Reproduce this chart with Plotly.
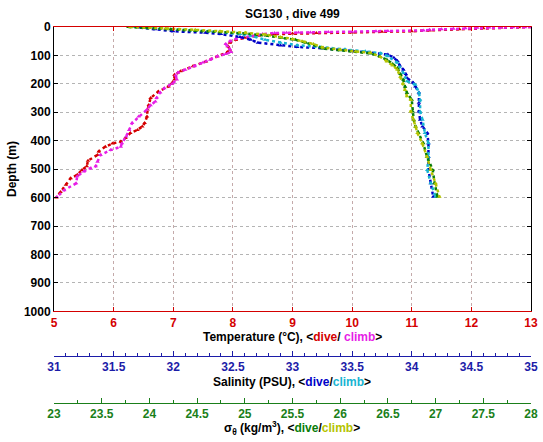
import plotly.graph_objects as go

# ---------------- data ----------------
temp_dive_depth = [0, 1, 2, 4, 8, 12, 15, 17, 19, 21, 23, 25, 30, 38, 45, 55, 68, 80, 90, 103,
                   121, 138, 156, 168, 185, 200, 209, 227, 250, 274, 290, 315, 338, 350, 362,
                   373, 390, 403, 410, 421, 438, 450, 470, 490, 503, 520, 532, 555, 580, 600]
temp_dive = [13.0, 12.8, 12.5, 12.2, 11.8, 11.3, 11.0, 10.5, 10.0, 9.4, 9.0, 8.7, 8.4, 8.2, 8.05,
             7.95, 7.92, 7.95, 7.9, 7.74, 7.55, 7.33, 7.12, 7.02, 7.02, 6.97, 6.92, 6.75, 6.62,
             6.59, 6.57, 6.56, 6.52, 6.48, 6.40, 6.28, 6.2, 6.12, 5.98, 5.86, 5.75, 5.73, 5.57,
             5.55, 5.47, 5.39, 5.28, 5.2, 5.11, 5.04]

temp_climb_depth = [0, 0.5, 1, 1.5, 2, 3, 4, 6, 8, 10, 12, 14, 15, 17, 18, 19, 19.5, 20, 21, 25,
                    32, 38, 42, 50, 60, 68, 78, 88, 95, 103, 115, 125, 138, 150, 160, 170, 185,
                    200, 215, 230, 250, 262, 275, 290, 315, 338, 362, 385, 409, 421, 433, 450,
                    474, 490, 497, 508, 525, 550, 574, 598]
temp_climb = [13.0, 12.9, 12.7, 12.5, 12.3, 12.1, 11.9, 11.7, 11.5, 11.3, 11.2, 10.6, 10.4, 10.0,
              9.6, 9.3, 9.1, 8.9, 8.7, 8.5, 8.3, 8.16, 8.05, 7.95, 7.88, 7.91, 7.95, 7.97, 7.88,
              7.74, 7.62, 7.5, 7.35, 7.2, 7.08, 7.04, 7.06, 6.98, 6.85, 6.78, 6.72, 6.70, 6.62,
              6.56, 6.42, 6.31, 6.26, 6.21, 6.14, 6.12, 5.95, 5.78, 5.73, 5.70, 5.61, 5.5, 5.39,
              5.37, 5.17, 5.05]

sal_dive_depth = [2, 8, 15, 20, 25, 35, 45, 55, 65, 70, 75, 80, 85, 90, 97, 108, 120, 135, 150,
                  165, 179, 195, 209, 230, 266, 297, 326, 350, 373, 409, 456, 503, 550, 597]
sal_dive = [31.72, 31.85, 32.00, 32.27, 32.40, 32.56, 32.65, 32.71, 32.90, 33.04, 33.26, 33.40,
            33.51, 33.65, 33.80, 33.85, 33.88, 33.90, 33.93, 33.95, 33.96, 34.01, 34.03, 34.06,
            34.06, 34.06, 34.07, 34.09, 34.13, 34.14, 34.14, 34.14, 34.16, 34.18]

sal_climb_depth = [0, 5, 15, 25, 35, 45, 55, 64, 70, 78, 85, 92, 103, 126, 162, 191, 203, 230,
                   256, 297, 326, 373, 409, 456, 503, 550, 597]
sal_climb = [31.68, 31.89, 32.31, 32.56, 32.69, 32.77, 32.90, 33.04, 33.23, 33.44, 33.61, 33.74,
             33.80, 33.88, 33.93, 33.96, 34.03, 34.06, 34.07, 34.07, 34.09, 34.11, 34.14, 34.14,
             34.13, 34.16, 34.20]

sig_dive_depth = [0, 3, 8, 13, 18, 23, 30, 38, 45, 55, 65, 76, 82, 87, 93, 105, 115, 130, 144,
                  165, 185, 210, 232, 256, 297, 326, 350, 373, 409, 456, 503, 550, 597]
sig_dive = [23.78, 23.96, 24.22, 24.48, 24.74, 25.01, 25.22, 25.39, 25.53, 25.64, 25.74, 25.82,
            26.00, 26.16, 26.32, 26.42, 26.49, 26.55, 26.60, 26.63, 26.66, 26.68, 26.70, 26.75,
            26.76, 26.77, 26.79, 26.82, 26.87, 26.91, 26.97, 26.99, 27.02]

sig_climb_depth = [0, 2, 5, 10, 15, 20, 27, 35, 42, 50, 60, 72, 80, 86, 91, 105, 121, 135, 150,
                   175, 200, 222, 244, 256, 297, 326, 350, 373, 409, 456, 503, 550, 597]
sig_climb = [23.80, 24.01, 24.17, 24.48, 24.74, 25.01, 25.22, 25.37, 25.50, 25.60, 25.72, 25.82,
             26.00, 26.16, 26.32, 26.42, 26.49, 26.55, 26.60, 26.63, 26.66, 26.68, 26.70, 26.74,
             26.74, 26.77, 26.79, 26.81, 26.86, 26.91, 26.95, 27.00, 27.04]

depth_ticks = list(range(0, 1001, 100))

# ---------------- styles ----------------
FONT = "Liberation Sans"
RED = "#d40000"
MAG = "#e61ee6"
BLUE = "#0000c8"
CYAN = "#18b4d2"
GREEN = "#0a7d0a"
YEL = "#b4c300"
SAL_AX = "#1c1ca8"
SIG_AX = "#1a7f1a"


def tr(x, y, color, axis):
    return go.Scatter(x=x, y=y, xaxis=axis, yaxis="y", mode="lines+markers",
                      line=dict(color=color, width=2.5, dash="dot"),
                      marker=dict(color=color, size=4, symbol="triangle-up"),
                      showlegend=False, hoverinfo="skip")


fig = go.Figure()
fig.add_trace(tr(sig_dive, sig_dive_depth, GREEN, "x3"))
fig.add_trace(tr(sig_climb, sig_climb_depth, YEL, "x3"))
fig.add_trace(tr(sal_dive, sal_dive_depth, BLUE, "x2"))
fig.add_trace(tr(sal_climb, sal_climb_depth, CYAN, "x2"))
fig.add_trace(tr(temp_dive, temp_dive_depth, RED, "x"))
fig.add_trace(tr(temp_climb, temp_climb_depth, MAG, "x"))

bold = dict(family=FONT, size=12, color="black", weight="bold")

fig.update_layout(
    width=543, height=442,
    margin=dict(l=54, r=12, t=27, b=10, autoexpand=False),
    paper_bgcolor="white", plot_bgcolor="white",
    font=dict(family=FONT, size=12, color="black"),
    xaxis=dict(range=[5, 13], dtick=1, tick0=5, domain=[0, 1], anchor="y", automargin=False,
               showline=True, linecolor=RED, linewidth=1, mirror="ticks",
               ticks="inside", ticklen=4, tickcolor=RED,
               tickfont=dict(family=FONT, size=12, color=RED, weight="bold"),
               showgrid=True, gridcolor="#c4aaaa", griddash="dot", gridwidth=1,
               zeroline=False),
    yaxis=dict(range=[1000, 0], tickvals=depth_ticks, domain=[0.298, 1], anchor="x",
               automargin=False,
               showline=True, linecolor="black", linewidth=1, mirror="ticks",
               ticks="inside", ticklen=4, tickcolor="black",
               tickfont=dict(family=FONT, size=12, color="black", weight="bold"),
               showgrid=True, gridcolor="#b4b4b4", griddash="dot", gridwidth=1,
               zeroline=False),
    xaxis2=dict(range=[31, 35], dtick=0.5, tick0=31, overlaying="x", anchor="free",
                position=0.1877, side="bottom", automargin=False,
                showline=True, linecolor=SAL_AX, linewidth=1,
                ticks="inside", ticklen=5, tickcolor=SAL_AX,
                minor=dict(dtick=0.1, ticks="inside", ticklen=3, tickcolor=SAL_AX),
                tickfont=dict(family=FONT, size=12, color=SAL_AX, weight="bold"),
                showgrid=False, zeroline=False),
    xaxis3=dict(range=[23, 28], dtick=0.5, tick0=23, overlaying="x", anchor="free",
                position=0.0723, side="bottom", automargin=False,
                showline=True, linecolor=SIG_AX, linewidth=1,
                ticks="inside", ticklen=5, tickcolor=SIG_AX,
                minor=dict(dtick=0.25, ticks="inside", ticklen=3, tickcolor=SIG_AX),
                tickfont=dict(family=FONT, size=12, color=SIG_AX, weight="bold"),
                showgrid=False, zeroline=False),
)


def ann(text, x, y, angle=0):
    fig.add_annotation(text=text, x=x, y=y, xref="paper", yref="paper",
                       xanchor="center", yanchor="middle", showarrow=False,
                       textangle=angle, font=bold)


H = 405.0  # paper height in px (442 - 27 - 10)
def py(ypix):
    return (432 - ypix) / H

W = 477.0
def px(xpix):
    return (xpix - 54) / W

ann("SG130 , dive 499", px(292), py(14))
ann("Depth (m)", px(12), py(169), angle=-90)
ann("Temperature (°C), &lt;<span style='color:%s'>dive</span>/ <span style='color:%s'>climb</span>&gt;" % (RED, MAG),
    px(292), py(337))
ann("Salinity (PSU), &lt;<span style='color:%s'>dive</span>/<span style='color:%s'>climb</span>&gt;" % (BLUE, CYAN),
    px(292), py(382))
ann("σ<sub>θ</sub> (kg/m<sup>3</sup>), &lt;<span style='color:%s'>dive</span>/<span style='color:%s'>climb</span>&gt;" % (GREEN, YEL),
    px(292), py(428))

fig.write_html("out.html", config={"displayModeBar": False},
               post_script="document.body.style.margin='0';document.body.style.overflow='hidden';")
